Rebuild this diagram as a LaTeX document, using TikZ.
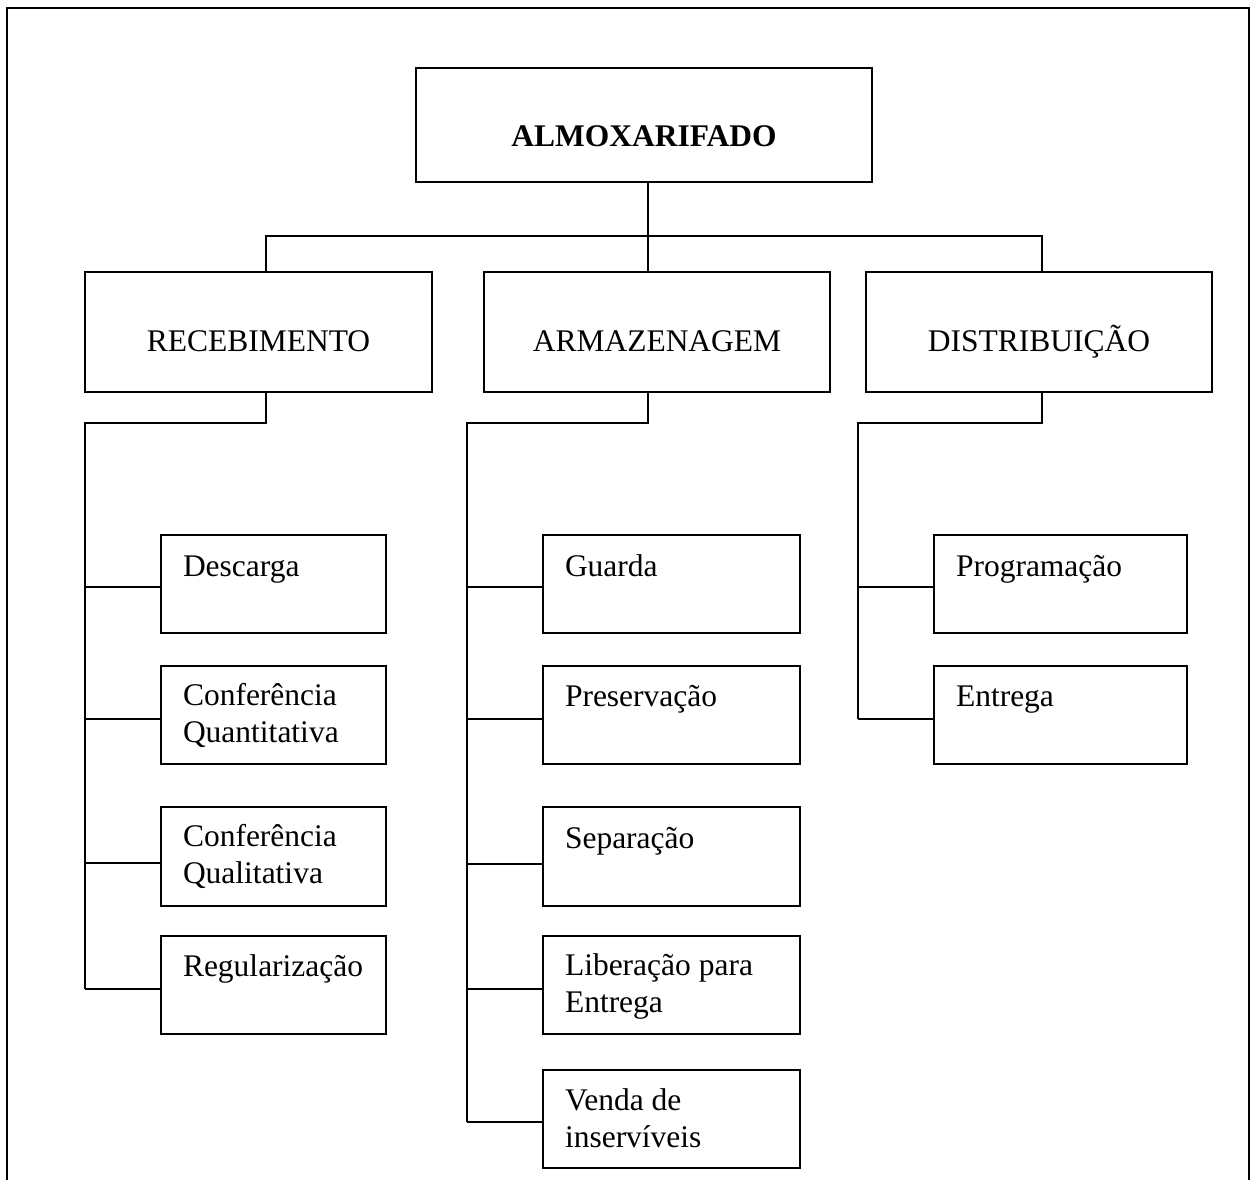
\documentclass[tikz,border=0pt]{standalone}
\usepackage{fontspec}
\setmainfont{Liberation Serif}
\begin{document}
\begin{tikzpicture}[x=1pt, y=-1pt,
  box/.style={draw, line width=1.3pt, inner sep=0pt, outer sep=0pt, anchor=north west},
  txt/.style={inner sep=0pt, outer sep=0pt, align=left,
    font=\fontsize{31.5}{37.7}\selectfont},
  link/.style={line width=1.3pt},
  frame/.style={line width=2.2pt}]
\useasboundingbox (0,0) rectangle (1254,1180);

% outer frame, open at the bottom
\draw[frame] (7,1180) -- (7,8) -- (1249,8) -- (1249,1180);

% top level
\node[box, minimum width=456pt, minimum height=114pt] (almox) at (416,68) {};
\node[txt, anchor=base, font=\fontsize{31.5}{37.7}\selectfont\bfseries] (almox-t) at (644,147) {ALMOXARIFADO};

% second level
\node[box, minimum width=347pt, minimum height=120pt] (receb) at (85,272) {};
\node[box, minimum width=346pt, minimum height=120pt] (armaz) at (484,272) {};
\node[box, minimum width=346pt, minimum height=120pt] (dist)  at (866,272) {};
\node[txt, anchor=base] (receb-t) at (258.5,351) {RECEBIMENTO};
\node[txt, anchor=base] (armaz-t) at (657,351) {ARMAZENAGEM};
\node[txt, anchor=base] (dist-t)  at (1039,351) {DISTRIBUIÇÃO};

% third level: recebimento (base of a two-line label is its last line)
\node[box, minimum width=225pt, minimum height=98pt] (desc)   at (161,535) {};
\node[box, minimum width=225pt, minimum height=98pt] (cquant) at (161,666) {};
\node[box, minimum width=225pt, minimum height=99pt] (cqual)  at (161,807) {};
\node[box, minimum width=225pt, minimum height=98pt] (regul)  at (161,936) {};
\node[txt, anchor=base west] (desc-t)   at (183,576.5) {Descarga};
\node[txt, anchor=base west] (cquant-t) at (183,742.7) {Conferência\\Quantitativa};
\node[txt, anchor=base west] (cqual-t)  at (183,883.7) {Conferência\\Qualitativa};
\node[txt, anchor=base west] (regul-t)  at (183,976) {Regularização};

% third level: armazenagem
\node[box, minimum width=257pt, minimum height=98pt] (guarda) at (543,535) {};
\node[box, minimum width=257pt, minimum height=98pt] (preserv) at (543,666) {};
\node[box, minimum width=257pt, minimum height=99pt] (separ)  at (543,807) {};
\node[box, minimum width=257pt, minimum height=98pt] (liber)  at (543,936) {};
\node[box, minimum width=257pt, minimum height=98pt] (venda)  at (543,1070) {};
\node[txt, anchor=base west] (guarda-t)  at (565,576.5) {Guarda};
\node[txt, anchor=base west] (preserv-t) at (565,706) {Preservação};
\node[txt, anchor=base west] (separ-t)   at (565,848) {Separação};
\node[txt, anchor=base west] (liber-t)   at (565,1012.7) {Liberação para\\Entrega};
\node[txt, anchor=base west] (venda-t)   at (565,1147.7) {Venda de\\inservíveis};

% third level: distribuição
\node[box, minimum width=253pt, minimum height=98pt] (prog)    at (934,535) {};
\node[box, minimum width=253pt, minimum height=98pt] (entrega) at (934,666) {};
\node[txt, anchor=base west] (prog-t)    at (956,576.5) {Programação};
\node[txt, anchor=base west] (entrega-t) at (956,706.5) {Entrega};

% junction points
\coordinate (xr) at (266,236);
\coordinate (xa) at (648,236);
\coordinate (xd) at (1042,236);
\coordinate (rtop) at (85,423);
\coordinate (atop) at (467,423);
\coordinate (dtop) at (858,423);

% top-level bus
\draw[link] (xa |- almox.south) -- (xa |- armaz.north);
\draw[link] (xr |- receb.north) -- (xr) -- (xd) -- (xd |- dist.north);

% recebimento branch
\draw[link] (xr |- receb.south) -- (xr |- rtop) -- (rtop) -- (rtop |- 0,989);
\draw[link] (rtop |- 0,587) -- (desc.west |- 0,587);
\draw[link] (rtop |- 0,719) -- (cquant.west |- 0,719);
\draw[link] (rtop |- 0,863) -- (cqual.west |- 0,863);
\draw[link] (rtop |- 0,989) -- (regul.west |- 0,989);

% armazenagem branch
\draw[link] (xa |- armaz.south) -- (xa |- atop) -- (atop) -- (atop |- 0,1122);
\draw[link] (atop |- 0,587) -- (guarda.west |- 0,587);
\draw[link] (atop |- 0,719) -- (preserv.west |- 0,719);
\draw[link] (atop |- 0,864) -- (separ.west |- 0,864);
\draw[link] (atop |- 0,989) -- (liber.west |- 0,989);
\draw[link] (atop |- 0,1122) -- (venda.west |- 0,1122);

% distribuição branch
\draw[link] (xd |- dist.south) -- (xd |- dtop) -- (dtop) -- (dtop |- 0,719);
\draw[link] (dtop |- 0,587) -- (prog.west |- 0,587);
\draw[link] (dtop |- 0,719) -- (entrega.west |- 0,719);
\end{tikzpicture}
\end{document}
